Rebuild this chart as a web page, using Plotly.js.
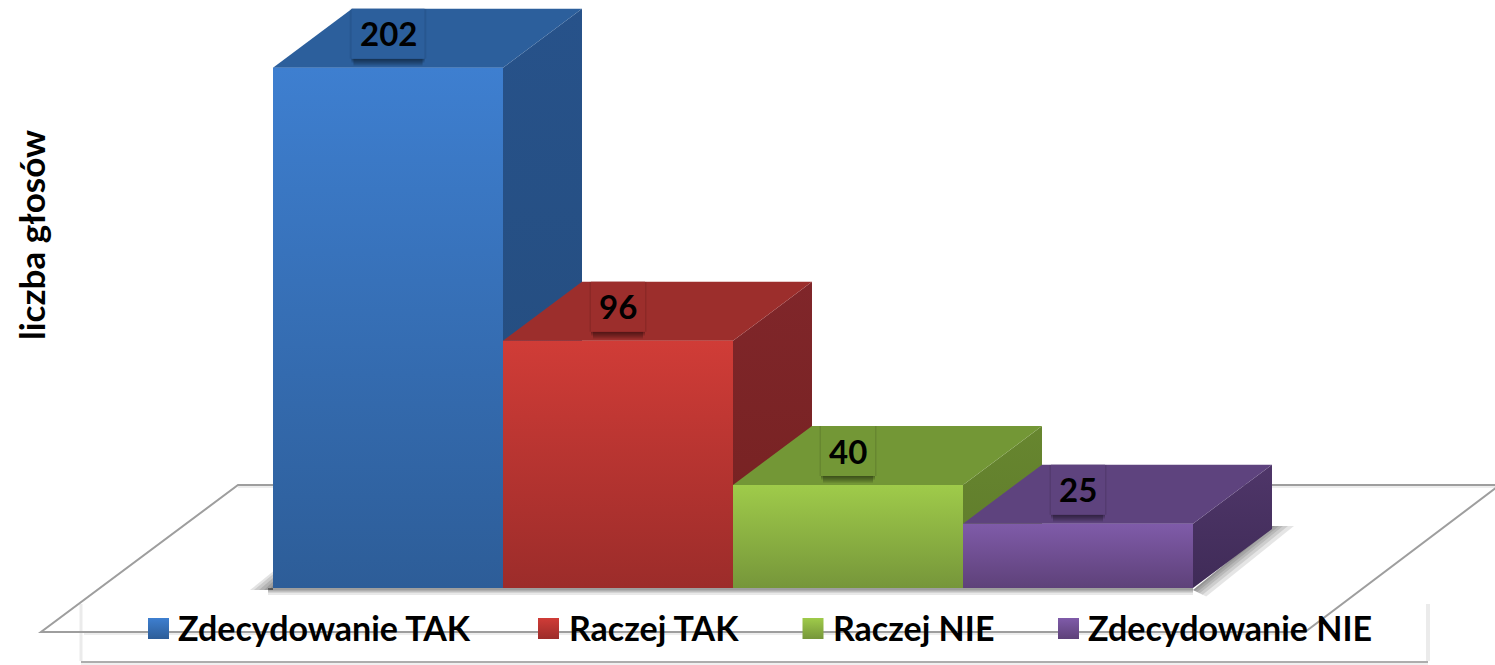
<!DOCTYPE html>
<html lang="pl">
<head>
<meta charset="utf-8">
<title>liczba głosów</title>
<script src="https://cdn.plot.ly/plotly-3.0.1.min.js"></script>
<style>
  html, body { margin: 0; padding: 0; background: #fff; overflow: hidden; }
  #chart { width: 1495px; height: 665px; }
</style>
</head>
<body>
<div id="chart"></div>
<script>
// Survey answers and the number of votes for each of them
const categories = ['Zdecydowanie TAK', 'Raczej TAK', 'Raczej NIE', 'Zdecydowanie NIE'];
const votes = [202, 96, 40, 25];
const axisTitle = 'liczba głosów';

// Face colours per answer: gradient top, gradient bottom, top face, side top, side bottom
const frontTop = ['#3E7FD0', '#D03C37', '#9FCB4A', '#7F5BA9'];
const frontBottom = ['#2D5D98', '#9C2C2A', '#76963A', '#5E4179'];
const topFace = ['#2C5F9C', '#9C2E2C', '#739736', '#5E437E'];
const sideTop = ['#27528A', '#80262A', '#67862F', '#4F3669'];
const sideBottom = ['#244C7C', '#742120', '#5E7A2B', '#3F2B57'];

// Pixel scale of the plot and the oblique projection of the bar depth
const PX_PER_CAT = 230;
const PX_PER_VOTE = 2.575;
const ZERO_X_PX = 388;
const ZERO_Y_PX = 588;
const W = 1495, H = 665;
const DEPTH_X = 79 / PX_PER_CAT;
const DEPTH_Y = 59 / PX_PER_VOTE;
const HALF = 0.5;
const xAt = px => (px - ZERO_X_PX) / PX_PER_CAT;
const yAt = px => (ZERO_Y_PX - px) / PX_PER_VOTE;

const FONT = 'Lato, "Open Sans", sans-serif';
const traces = [];
const face = (xs, ys, c0, c1, name) => ({
  type: 'scatter', mode: 'none', x: xs, y: ys, fill: 'toself', hoverinfo: 'skip',
  showlegend: false, name: name,
  fillgradient: { type: 'vertical', colorscale: [[0, c1], [1, c0]] }
});

// Front faces are real bars, the gradient and the depth faces are laid over them
categories.forEach((name, i) => {
  traces.push({
    type: 'bar', x: [i], y: [votes[i]], width: [1], name: name, showlegend: false,
    marker: { color: frontTop[i], line: { width: 0 } },
    hovertemplate: name + ': %{y}<extra></extra>'
  });
});
categories.forEach((name, i) => {
  const l = i - HALF, r = i + HALF, v = votes[i];
  traces.push(face([r, r + DEPTH_X, r + DEPTH_X, r, r], [0, DEPTH_Y, v + DEPTH_Y, v, 0],
    sideTop[i], sideBottom[i], name + ' bok'));
  traces.push(face([l, r, r + DEPTH_X, l + DEPTH_X, l], [v, v, v + DEPTH_Y, v + DEPTH_Y, v],
    topFace[i], topFace[i], name + ' góra'));
  traces.push(face([l, r, r, l, l], [0, 0, v, v, 0], frontTop[i], frontBottom[i], name + ' przód'));
});

// Legend swatches along the bottom of the chart
const swatchCentre = [158.5, 548.5, 813, 1068.5];
traces.push({
  type: 'scatter', mode: 'markers', hoverinfo: 'skip', showlegend: false,
  x: swatchCentre.map(xAt), y: categories.map(() => yAt(628.5)),
  marker: {
    symbol: 'square', size: 21, color: frontTop, line: { width: 0 },
    gradient: { type: 'vertical', color: frontBottom }
  }
});

// Floor outline, soft shadows and the legend frame
const shapes = [];
const poly = pts => 'M' + pts.map(p => xAt(p[0]) + ',' + yAt(p[1])).join('L') + 'Z';
const soft = (pts, alpha) => shapes.push({
  type: 'path', layer: 'below', xref: 'x', yref: 'y', path: poly(pts),
  fillcolor: 'rgba(0,0,0,' + alpha + ')', line: { width: 0 }
});
const edge = (x0, y0, x1, y1, color, width) => shapes.push({
  type: 'line', layer: 'below', xref: 'x', yref: 'y',
  x0: xAt(x0), y0: yAt(y0), x1: xAt(x1), y1: yAt(y1), line: { color: color, width: width }
});

// Legend frame: only its edges show, the floor stays visible through it
edge(81, 604, 81, 661, 'rgba(0,0,0,0.08)', 3);
edge(1428, 604, 1428, 661, 'rgba(0,0,0,0.08)', 4);
edge(81, 662, 1428, 662, '#ADADAD', 2);
edge(81, 664, 1428, 664, 'rgba(0,0,0,0.06)', 2);

shapes.push({
  type: 'path', layer: 'below', xref: 'x', yref: 'y',
  path: 'M' + [[1505, 485], [238, 485], [41, 632], [1305, 632], [1505, 481]]
    .map(p => xAt(p[0]) + ',' + yAt(p[1])).join('L'),
  fillcolor: 'rgba(0,0,0,0)', line: { color: '#9E9E9E', width: 2 }
});
edge(238, 487, 1505, 487, 'rgba(0,0,0,0.07)', 2);
edge(84, 634, 1305, 634, 'rgba(0,0,0,0.07)', 2);

// Contact shadow of the block of bars
[2, 3, 4, 5, 7].forEach(d => {
  soft([[268, 588], [1193, 588], [1193, 588 + d], [268, 588 + d]], 0.09);
});
[4, 9, 14, 19, 23].forEach(d => {
  soft([[273, 588], [273, 588 - d * 0.72], [273 - d, 590], [273, 590]], 0.11);
});
[3, 7, 11, 16, 22].forEach(d => {
  soft([[1193, 590], [1272, 526], [1272 + d, 526], [1193 + d * 0.6, 590 + d * 0.3]], 0.1);
});

// Value labels: box on the top face with a small drop shadow below it
const annotations = [];
const boxWidth = votes.map(v => (String(v).length > 2 ? 73 : 54));
const BOX_BOTTOM = 9, BOX_TOP = 59;
categories.forEach((name, i) => {
  const hw = boxWidth[i] / 2;
  const pixelRect = (x0, x1, y0, y1, fill) => shapes.push({
    type: 'rect', layer: 'above', xref: 'x', yref: 'y',
    xsizemode: 'pixel', xanchor: i, x0: x0, x1: x1,
    ysizemode: 'pixel', yanchor: votes[i], y0: y0, y1: y1,
    fillcolor: fill, line: { width: 0 }
  });
  // faint halo on the sides of the box, then the shadow under it, then the box
  [1, 2].forEach(g => pixelRect(-hw - g, hw + g, BOX_BOTTOM, BOX_TOP, 'rgba(0,0,0,0.05)'));
  [1, 2, 3, 4, 5, 6, 7].forEach(d => {
    const inset = d > 4 ? 2 : 0;
    pixelRect(-hw + inset, hw - inset, BOX_BOTTOM, BOX_BOTTOM - d, 'rgba(0,0,0,0.08)');
  });
  pixelRect(-hw, hw, BOX_BOTTOM, BOX_TOP, topFace[i]);
  annotations.push({
    xref: 'x', yref: 'y', x: i, y: votes[i], xanchor: 'center', yanchor: 'middle', yshift: 34.5,
    text: '<b>' + votes[i] + '</b>', showarrow: false, borderpad: 0, borderwidth: 0,
    font: { family: FONT, size: 33, color: '#000' }
  });
});

// Legend captions
const captionLeft = [178, 569, 833, 1088];
categories.forEach((name, i) => {
  annotations.push({
    xref: 'x', yref: 'y', x: xAt(captionLeft[i]), y: yAt(627), xanchor: 'left', yanchor: 'middle',
    text: '<b>' + name + '</b>', showarrow: false, borderpad: 0, borderwidth: 0,
    font: { family: FONT, size: 34, color: '#000' }
  });
});

// Rotated axis caption at the left edge
annotations.push({
  xref: 'x', yref: 'y', x: xAt(31), y: yAt(235), xanchor: 'center', yanchor: 'middle',
  text: '<b>' + axisTitle + '</b>', textangle: -90, showarrow: false,
  font: { family: FONT, size: 35, color: '#000' }
});

const layout = {
  width: W, height: H, margin: { l: 0, r: 0, t: 0, b: 0, pad: 0 },
  paper_bgcolor: '#fff', plot_bgcolor: '#fff', showlegend: false, barmode: 'overlay',
  xaxis: { visible: false, range: [xAt(0), xAt(W)], fixedrange: true },
  yaxis: { visible: false, range: [yAt(H), yAt(0)], fixedrange: true },
  shapes: shapes, annotations: annotations
};

Plotly.newPlot('chart', traces, layout, { displayModeBar: false, responsive: false });
</script>
</body>
</html>
